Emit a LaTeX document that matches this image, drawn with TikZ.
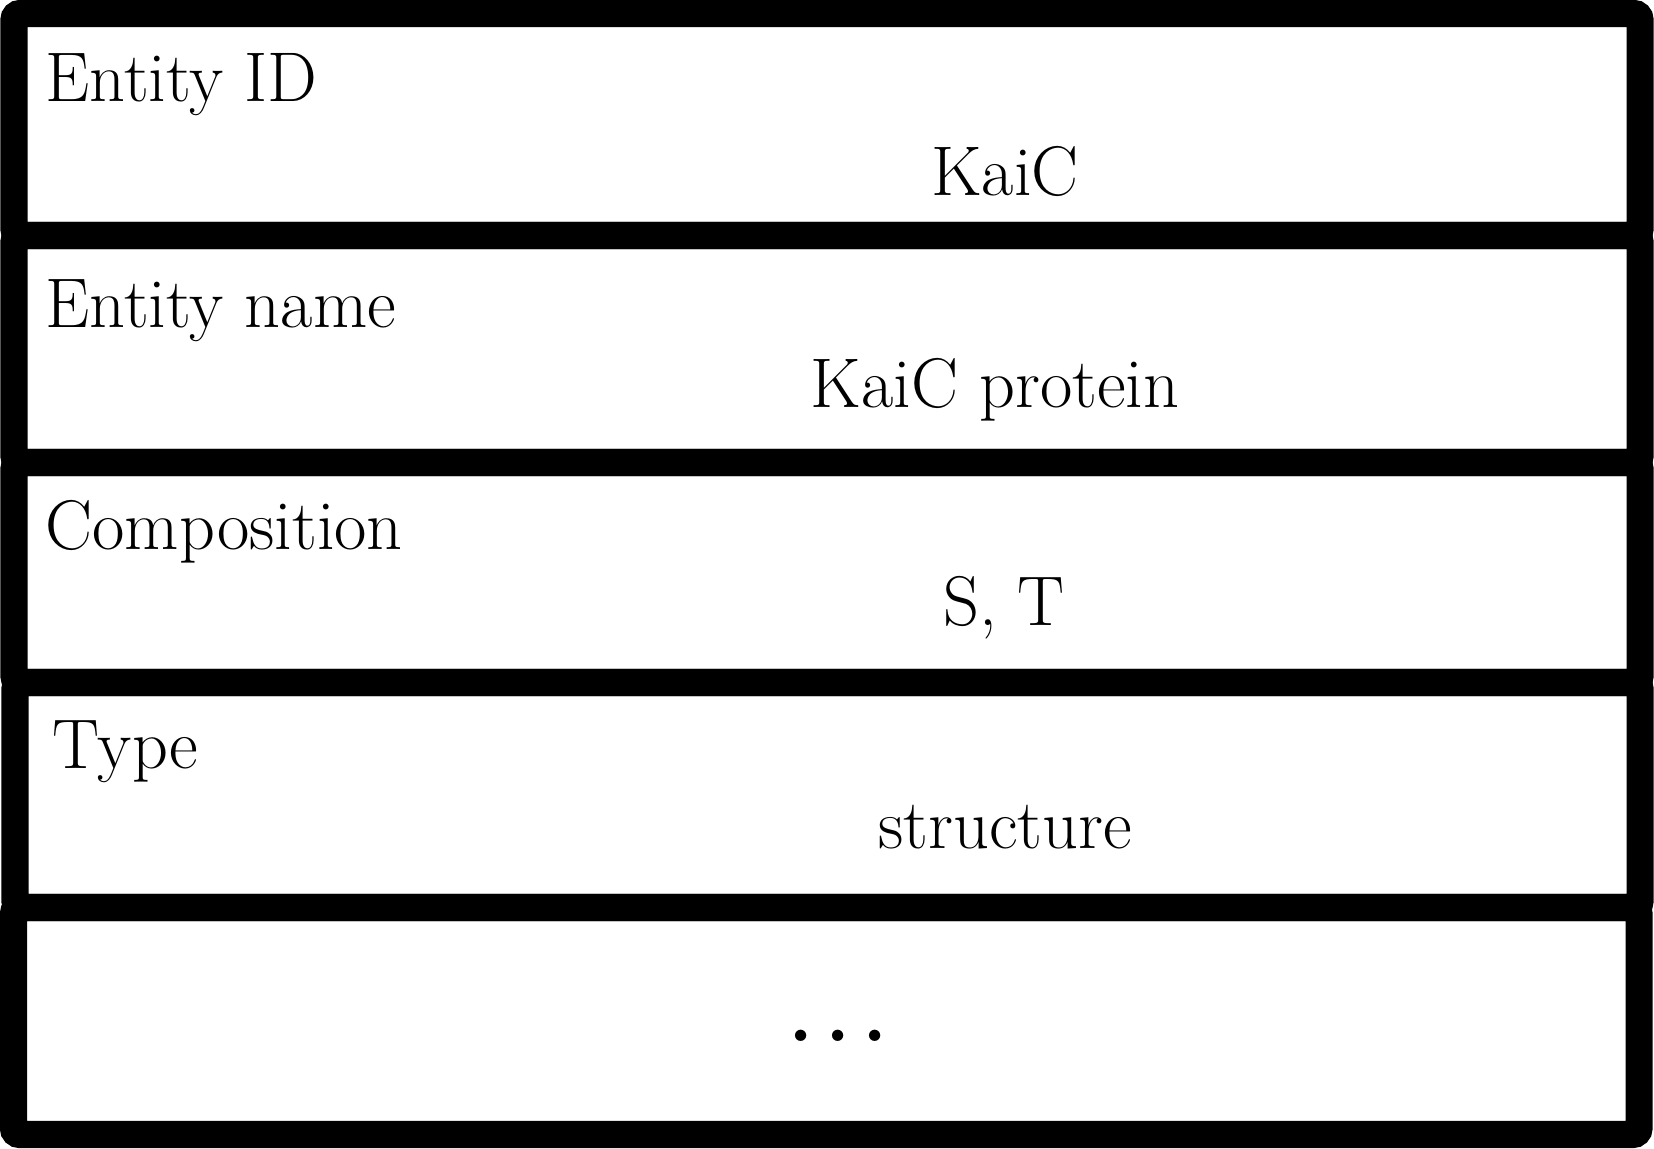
\documentclass[tikz,border=0pt]{standalone}
\usepackage{tikz}

\begin{document}
\begin{tikzpicture}[x=0.01cm,y=-0.01cm,
    rowbox/.style={draw,line width=0.27cm,rounded corners=0.06cm},
    every node/.style={font=\fontsize{20}{24}\selectfont,inner sep=0pt}]
    \useasboundingbox (0,0) rectangle (1654,1149);
    %rows
    \draw[rowbox] (14,13.5) rectangle (1640,235.5);
    \draw[rowbox] (14,235.5) rectangle (1640,462.5);
    \draw[rowbox] (14,462.5) rectangle (1640,682.5);
    \draw[rowbox] (15,682.5) rectangle (1640,907.5);
    \draw[rowbox] (13.5,907.5) rectangle (1639,1134.5);
    %labels
    \node[anchor=base west] (idlabel) at (45,102) {Entity ID};
    \node[anchor=base] (idvalue) at (1005,196) {KaiC};
    \node[anchor=base west] (namelabel) at (45,328) {Entity name};
    \node[anchor=base] (namevalue) at (995,408) {KaiC protein};
    \node[anchor=base west] (complabel) at (45,550) {Composition};
    \node[anchor=base] (compvalue) at (1004,626) {S, T};
    \node[anchor=base west] (typelabel) at (52,768) {Type};
    \node[anchor=base] (typevalue) at (1005,848) {structure};
    \node[anchor=base] (more) at (838,1041) {{\mathversion{bold}$\ldots$}};
\end{tikzpicture}
\end{document}
